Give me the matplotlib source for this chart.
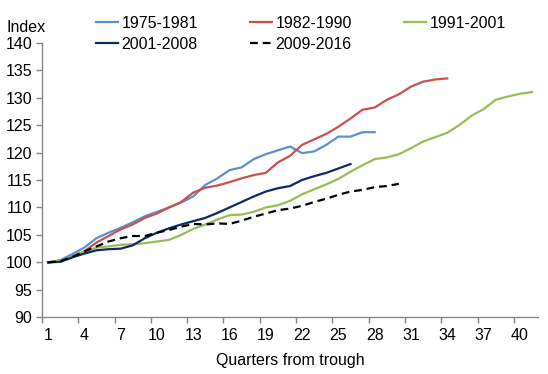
import numpy as np
import matplotlib.pyplot as plt
from matplotlib.ticker import FixedLocator

# ==========================================
# Data (index, trough = 100)
# ==========================================
series_names = ['1975-1981', '1982-1990', '1991-2001', '2001-2008', '2009-2016']

r1975 = [100, 100.4, 101.5, 102.7, 104.4, 105.4, 106.3, 107.3, 108.4, 109.2,
         110.0, 110.9, 112.0, 114.1, 115.3, 116.8, 117.3, 118.8, 119.7, 120.4,
         121.1, 119.9, 120.2, 121.4, 122.9, 122.9, 123.7, 123.7]
r1982 = [100, 100.2, 101.0, 102.0, 103.6, 104.8, 106.0, 106.9, 108.1, 108.9,
         110.0, 111.0, 112.7, 113.6, 114.0, 114.6, 115.3, 115.9, 116.3, 118.2,
         119.4, 121.4, 122.4, 123.4, 124.7, 126.2, 127.8, 128.2, 129.6, 130.6,
         132.0, 132.9, 133.3, 133.5]
r1991 = [100, 100.3, 101.0, 101.9, 102.7, 102.9, 103.2, 103.3, 103.5, 103.8,
         104.1, 105.0, 106.1, 106.9, 107.8, 108.6, 108.7, 109.2, 110.0, 110.4,
         111.2, 112.4, 113.3, 114.2, 115.2, 116.5, 117.7, 118.8, 119.1, 119.7,
         120.8, 122.0, 122.8, 123.6, 125.0, 126.7, 127.9, 129.6, 130.2, 130.7,
         131.0]
r2001 = [100, 100.1, 100.9, 101.6, 102.2, 102.4, 102.5, 103.1, 104.4, 105.4,
         106.2, 106.9, 107.5, 108.1, 109.0, 110.0, 111.0, 112.0, 112.9, 113.5,
         113.9, 115.0, 115.7, 116.3, 117.1, 117.9]
r2009 = [100, 100.2, 101.0, 102.0, 102.9, 103.8, 104.4, 104.8, 104.8, 105.4,
         105.9, 106.5, 107.0, 106.9, 107.1, 107.0, 107.6, 108.3, 108.9, 109.5,
         109.8, 110.3, 111.0, 111.6, 112.3, 112.9, 113.2, 113.7, 113.9, 114.3]

xtick_labels = [str(q) for q in range(1, 41, 3)]

plt.rcParams.update({
    'font.family': 'Liberation Sans',
    'font.size': 11.5,
})

fig = plt.figure(figsize=(5.48, 3.74), dpi=100)
W, H = 548, 374
ax = fig.add_axes([42 / W, (H - 317.3) / H, 496 / W, 274.6 / H])

colors = ['#5B8FD2', '#C9504D', '#9BBB59', '#0E2A66', '#000000']
data = [r1975, r1982, r1991, r2001, r2009]
lines = []
for name, vals, c in zip(series_names, data, colors):
    q = np.arange(1, len(vals) + 1)
    if name == '2009-2016':
        ln, = ax.plot(q, vals, color=c, lw=1.6, dashes=(3.5, 2.2), label=name)
    else:
        ln, = ax.plot(q, vals, color=c, lw=1.6, label=name)
    lines.append(ln)

ax.set_xlim(0.5, 41.5)
ax.set_ylim(90, 140)
ax.set_yticks(np.arange(90, 141, 5))

# category labels centred, tick marks between categories (Excel style)
ax.set_xticks(np.arange(1, 41, 3))
ax.set_xticklabels(xtick_labels)
ax.xaxis.set_minor_locator(FixedLocator(np.arange(0.5, 41, 3)))
ax.tick_params(axis='x', which='major', length=0, pad=8)
ax.tick_params(axis='x', which='minor', length=4, width=1, color='#868686')
ax.tick_params(axis='y', length=4, width=1, color='#868686', pad=3)

for s in ['top', 'right']:
    ax.spines[s].set_visible(False)
for s in ['left', 'bottom']:
    ax.spines[s].set_color('#868686')
    ax.spines[s].set_linewidth(1)

ax.set_xlabel('Quarters from trough', labelpad=7)
fig.text(7 / W, 1 - 27 / H, 'Index', ha='left', va='center')

# legend: row 1 -> 1975, 1982, 1991 ; row 2 -> 2001, 2009
order = [0, 3, 1, 4, 2]
fig.legend([lines[i] for i in order], [series_names[i] for i in order],
           ncol=3, loc='upper left', bbox_to_anchor=(96 / W, 1 - 16 / H),
           frameon=False, borderpad=0, borderaxespad=0,
           handlelength=1.4, handletextpad=0.2, columnspacing=3.25,
           labelspacing=0.38)

fig.savefig('out.png', dpi=100)
